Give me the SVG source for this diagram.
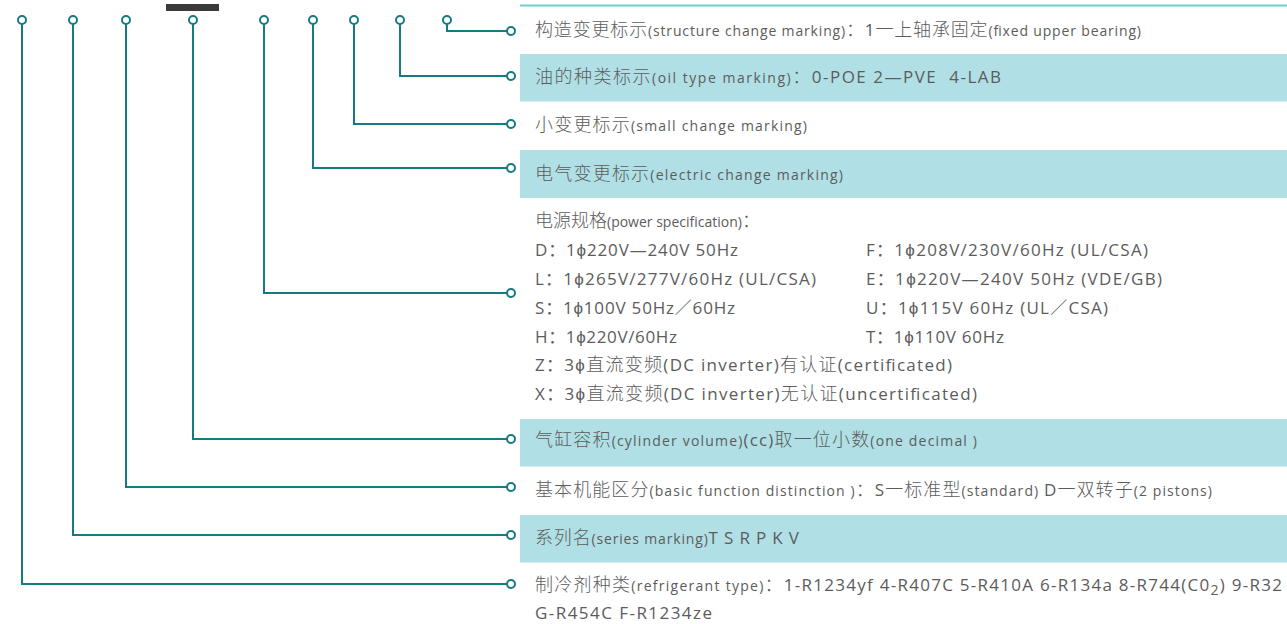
<svg xmlns="http://www.w3.org/2000/svg" width="1287" height="624" viewBox="0 0 1287 624">
<style>
text{font-family:"Noto Sans CJK SC","Noto Sans",sans-serif;font-size:18px;font-weight:300;fill:#5c5c5c}
.sm{font-family:"Open Sans","Noto Sans CJK SC",sans-serif;font-size:14px;font-weight:400}
.lt{font-family:"Open Sans","Noto Sans CJK SC",sans-serif;font-size:17px;font-weight:400}
.band{fill:#b0e0e5}
.ln{fill:none;stroke:#157b80;stroke-width:2}
.dot{fill:#fff;stroke:#157b80;stroke-width:2}
</style>
<rect width="1287" height="624" fill="#fff"/>
<rect x="166" y="4" width="53" height="7" fill="#3a3a3a"/>
<rect x="520" y="4.5" width="767" height="2" fill="#6ccfcf"/>
<g id="bands">
<rect class="band" x="520" y="54" width="767" height="47.5"/>
<rect class="band" x="520" y="150" width="767" height="48"/>
<rect class="band" x="520" y="419" width="767" height="47.5"/>
<rect class="band" x="520" y="515" width="767" height="47.5"/>
</g>
<g id="connectors">
<path class="ln" d="M447 24V31H507"/>
<path class="ln" d="M400 24V76H507"/>
<path class="ln" d="M354 24V124H507"/>
<path class="ln" d="M313 24V168H507"/>
<path class="ln" d="M264 24V293H507"/>
<path class="ln" d="M193 24V439H507"/>
<path class="ln" d="M126 24V487H507"/>
<path class="ln" d="M73 24V535H507"/>
<path class="ln" d="M22 24V584H507"/>
<circle class="dot" cx="447" cy="20" r="4"/>
<circle class="dot" cx="400" cy="20" r="4"/>
<circle class="dot" cx="354" cy="20" r="4"/>
<circle class="dot" cx="313" cy="20" r="4"/>
<circle class="dot" cx="264" cy="20" r="4"/>
<circle class="dot" cx="193" cy="20" r="4"/>
<circle class="dot" cx="126" cy="20" r="4"/>
<circle class="dot" cx="73" cy="20" r="4"/>
<circle class="dot" cx="22" cy="20" r="4"/>
<circle class="dot" cx="511" cy="31" r="4"/>
<circle class="dot" cx="511" cy="76" r="4"/>
<circle class="dot" cx="511" cy="124" r="4"/>
<circle class="dot" cx="511" cy="168" r="4"/>
<circle class="dot" cx="511" cy="293" r="4"/>
<circle class="dot" cx="511" cy="439" r="4"/>
<circle class="dot" cx="511" cy="487" r="4"/>
<circle class="dot" cx="511" cy="535" r="4"/>
<circle class="dot" cx="511" cy="584" r="4"/>
</g>
<g id="structure-change">
<text x="535" y="36" textLength="606" lengthAdjust="spacing">构造变更标示<tspan class="sm">(structure change marking)</tspan>：<tspan class="lt">1</tspan>一上轴承固定<tspan class="sm">(fixed upper bearing)</tspan></text>
</g>
<g id="oil-type">
<text x="535" y="83" textLength="466" lengthAdjust="spacing">油的种类标示<tspan class="sm">(oil type marking)</tspan>：<tspan class="lt">0-POE 2—PVE&#160; 4-LAB</tspan></text>
</g>
<g id="small-change">
<text x="535" y="131" textLength="272" lengthAdjust="spacing">小变更标示<tspan class="sm">(small change marking)</tspan></text>
</g>
<g id="electric-change">
<text x="535" y="180" textLength="308" lengthAdjust="spacing">电气变更标示<tspan class="sm">(electric change marking)</tspan></text>
</g>
<g id="power-spec">
<text x="535" y="227">电源规格<tspan class="sm">(power specification)</tspan>：</text>
<text class="lt" x="535" y="256" textLength="203" lengthAdjust="spacing">D：1ϕ220V—240V 50Hz</text>
<text class="lt" x="866" y="256" textLength="282" lengthAdjust="spacing">F：1ϕ208V/230V/60Hz (UL/CSA)</text>
<text class="lt" x="535" y="285" textLength="281" lengthAdjust="spacing">L：1ϕ265V/277V/60Hz (UL/CSA)</text>
<text class="lt" x="866" y="285" textLength="296" lengthAdjust="spacing">E：1ϕ220V—240V 50Hz (VDE/GB)</text>
<text class="lt" x="535" y="314" textLength="200" lengthAdjust="spacing">S：1ϕ100V 50Hz／60Hz</text>
<text class="lt" x="866" y="314" textLength="242" lengthAdjust="spacing">U：1ϕ115V 60Hz (UL／CSA)</text>
<text class="lt" x="535" y="343" textLength="142" lengthAdjust="spacing">H：1ϕ220V/60Hz</text>
<text class="lt" x="866" y="343" textLength="138" lengthAdjust="spacing">T：1ϕ110V 60Hz</text>
<text x="535" y="371" textLength="417" lengthAdjust="spacing"><tspan class="lt">Z：3ϕ</tspan>直流变频<tspan class="lt">(DC inverter)</tspan>有认证<tspan class="lt">(certificated)</tspan></text>
<text x="535" y="400" textLength="442" lengthAdjust="spacing"><tspan class="lt">X：3ϕ</tspan>直流变频<tspan class="lt">(DC inverter)</tspan>无认证<tspan class="lt">(uncertificated)</tspan></text>
</g>
<g id="cylinder-volume">
<text x="535" y="446" textLength="442" lengthAdjust="spacing">气缸容积<tspan class="sm">(cylinder volume)</tspan><tspan class="lt">(cc)</tspan>取一位小数<tspan class="sm">(one decimal )</tspan></text>
</g>
<g id="basic-function">
<text x="535" y="496" textLength="677" lengthAdjust="spacing">基本机能区分<tspan class="sm">(basic function distinction )</tspan>：<tspan class="lt">S</tspan>一标准型<tspan class="sm">(standard) </tspan><tspan class="lt">D</tspan>一双转子<tspan class="sm">(2 pistons)</tspan></text>
</g>
<g id="series">
<text x="535" y="544" textLength="264" lengthAdjust="spacing">系列名<tspan class="sm">(series marking)</tspan><tspan class="lt">T S R P K V</tspan></text>
</g>
<g id="refrigerant">
<text x="535" y="591" textLength="747" lengthAdjust="spacing">制冷剂种类<tspan class="sm">(refrigerant type)</tspan>：<tspan class="lt">1-R1234yf 4-R407C 5-R410A 6-R134a 8-R744(C0</tspan><tspan class="sm" font-size="10" dy="4">2</tspan><tspan class="lt" dy="-4">) 9-R32</tspan></text>
<text class="lt" x="535" y="619" textLength="177" lengthAdjust="spacing">G-R454C F-R1234ze</text>
</g>
</svg>
